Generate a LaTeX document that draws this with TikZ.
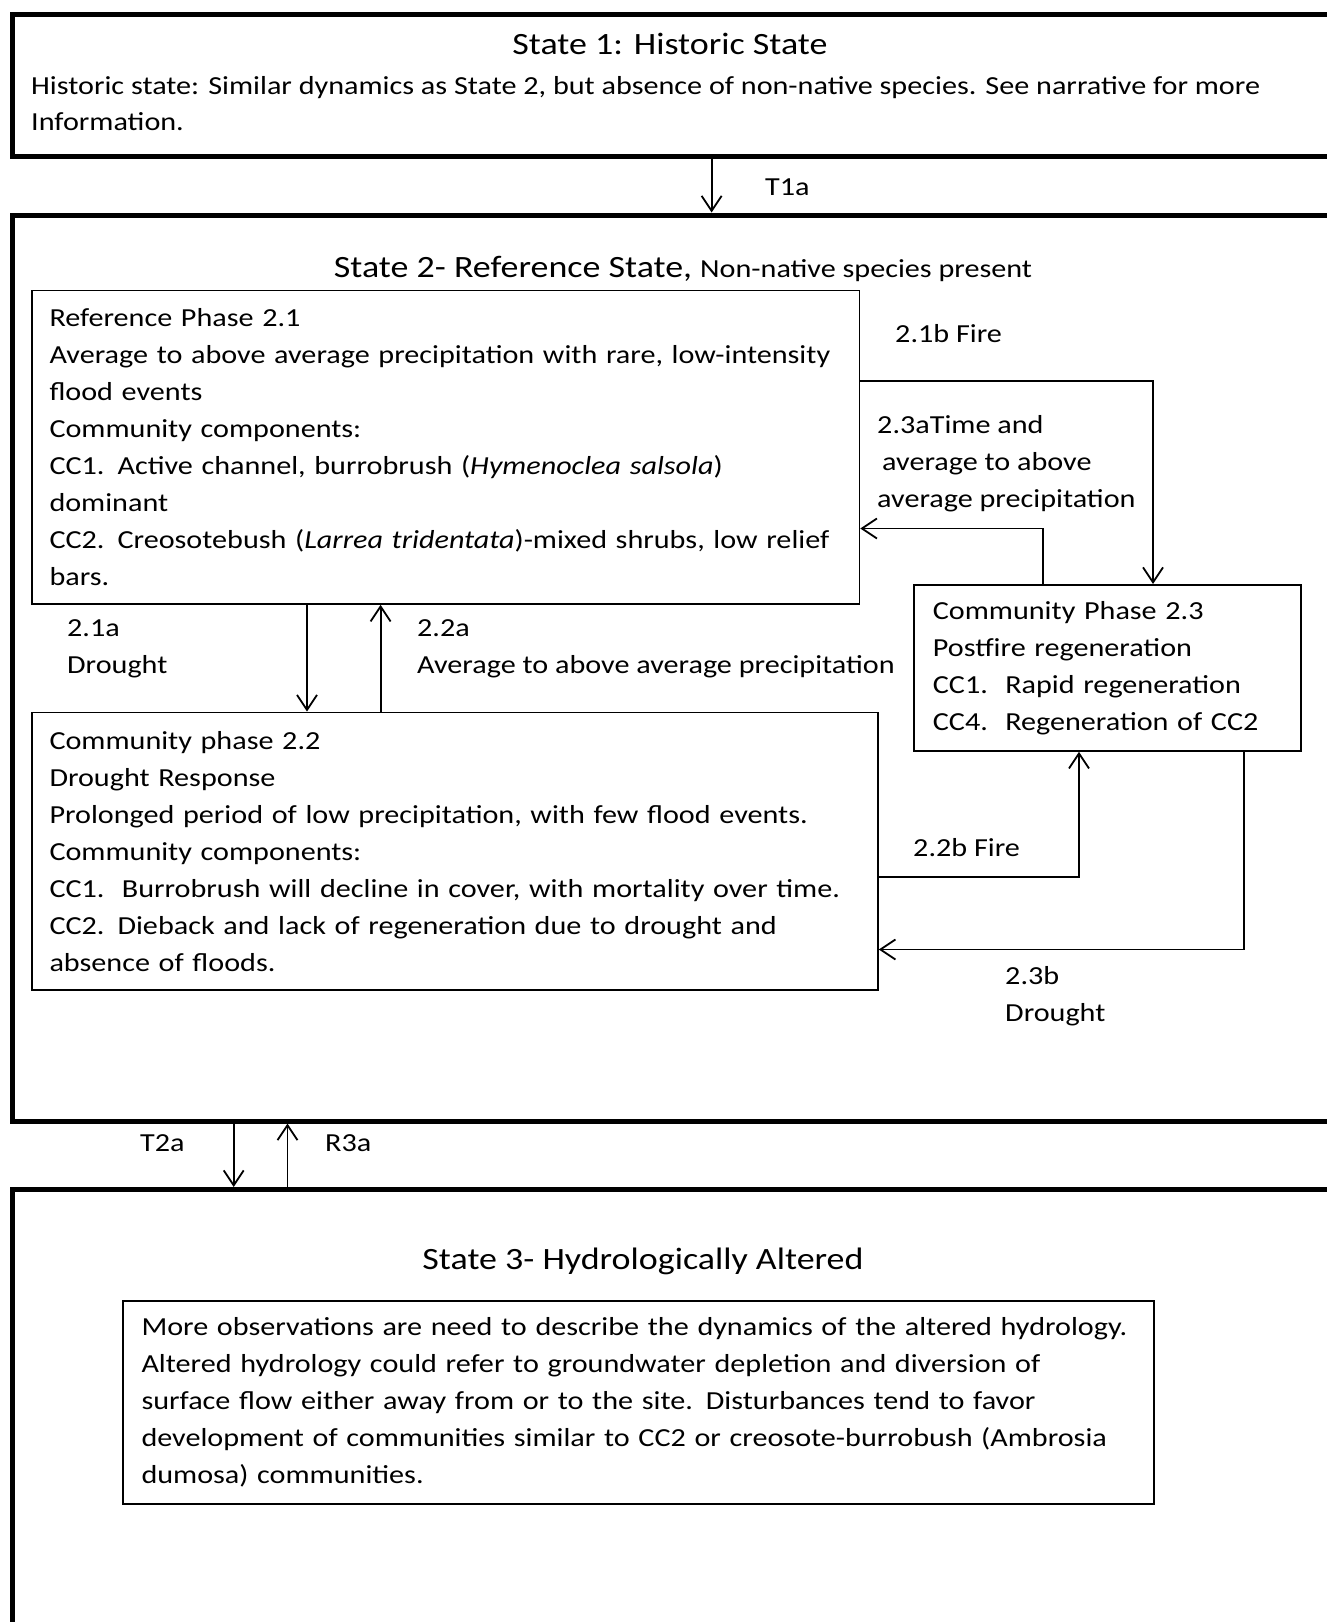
\documentclass[tikz,border=0pt]{standalone}
\usepackage{fontspec}
\setmainfont{Carlito}[FakeStretch=1.16]
\usetikzlibrary{arrows.meta, positioning}
\tikzset{
  statebox/.style={draw, line width=5pt, anchor=north west, inner sep=0pt},
  phasebox/.style={draw, line width=1.8pt, anchor=north west, align=left, inner ysep=0pt, font=\fontsize{26}{37}\selectfont},
  lbl/.style={anchor=base west, inner sep=0pt, font=\fontsize{26}{37}\selectfont},
  ttl/.style={anchor=base, inner sep=0pt, font=\fontsize{31}{37}\selectfont},
  arr/.style={line width=1.8pt, -{Straight Barb[length=15pt,width=20pt]}},
}

\begin{document}
\begin{tikzpicture}[x=1pt, y=-1pt]
\useasboundingbox (0,0) rectangle (1327,1622);
\fill[white] (0,0) rectangle (1327,1622);
\clip (0,0) rectangle (1327,1622);

% state frames
\node[statebox, minimum width=1400, minimum height=141.5] (s1) at (10,12) {};
\node[statebox, minimum width=1400, minimum height=906] (s2) at (10,212.5) {};
\node[statebox, minimum width=1400, minimum height=600] (s3) at (10,1187) {};

% state 1
\node[ttl] (s1t) at (670,54) {State 1: Historic State};
\node[lbl] (h1a) at (31,94) {Historic state: Similar dynamics as State 2, but absence of non-native species. See narrative for more};
\node[lbl] (h1b) at (31,130) {Information.};

% state 2
\node[ttl] (s2t) at (683,277) {State 2- Reference State, {\fontsize{26}{37}\selectfont Non-native species present}};

\node[phasebox, inner xsep=17.6, text width=792.3, minimum width=827.5, minimum height=313.4] (p21) at (31,289.6) {Reference Phase 2.1\\
Average to above average precipitation with rare, low-intensity\\
flood events\\
Community components:\\
CC1. Active channel, burrobrush (\textit{Hymenoclea salsola})\\
dominant\\
CC2. Creosotebush (\textit{Larrea tridentata})-mixed shrubs, low relief\\
bars.};

\node[phasebox, inner xsep=17.6, text width=810.8, minimum width=846, minimum height=277.4] (p22) at (31,711.6) {Community phase 2.2\\
Drought Response\\
Prolonged period of low precipitation, with few flood events.\\
Community components:\\
CC1.\ \ Burrobrush will decline in cover, with mortality over time.\\
CC2. Dieback and lack of regeneration due to drought and\\
absence of floods.};

\node[phasebox, inner xsep=19, text width=349, minimum width=387, minimum height=166] (p23) at (913,584) {Community Phase 2.3\\
Postfire regeneration\\
CC1.\ \ Rapid regeneration\\
CC4.\ \ Regeneration of CC2};

% transitions inside state 2
\draw[arr] (p21.south -| 307,0) -- (p22.north -| 307,0);
\draw[arr] (p22.north -| 380.6,0) -- (p21.south -| 380.6,0);
\draw[arr] (p21.east |- 0,380.6) -| (p23.north -| 1153,0);
\draw[arr] (p23.north -| 1042.6,0) |- (p21.east |- 0,528.5);
\draw[arr] (p22.east |- 0,877) -| (p23.south -| 1079,0);
\draw[arr] (p23.south -| 1244,0) |- (p22.east |- 0,949.5);

\node[lbl] (l21a) at (67,636) {2.1a};
\node[lbl] (l21a2) at (67,673) {Drought};
\node[lbl] (l22a) at (417,636) {2.2a};
\node[lbl] (l22a2) at (417,673) {Average to above average precipitation};
\node[lbl] (l21b) at (895,342) {2.1b Fire};
\node[lbl] (l23a) at (877,433) {2.3aTime and};
\node[lbl] (l23a2) at (882,470) {average to above};
\node[lbl] (l23a3) at (877,507) {average precipitation};
\node[lbl] (l22b) at (913,856) {2.2b Fire};
\node[lbl] (l23b) at (1005,984) {2.3b};
\node[lbl] (l23b2) at (1005,1021) {Drought};

% between states
\draw[arr] (s1.south -| 711.6,0) -- (s2.north -| 711.6,0);
\node[lbl] (lt1a) at (765,195) {T1a};
\draw[arr] (s2.south -| 233.7,0) -- (s3.north -| 233.7,0);
\draw[arr] (s3.north -| 287.5,0) -- (s2.south -| 287.5,0);
\node[lbl] (lt2a) at (140,1151) {T2a};
\node[lbl] (lr3a) at (325,1151) {R3a};

% state 3
\node[ttl] (s3t) at (643,1269) {State 3- Hydrologically Altered};
\node[phasebox, inner xsep=18.6, text width=993.8, minimum width=1031, minimum height=203] (p3) at (122,1300) {More observations are need to describe the dynamics of the altered hydrology.\\
Altered hydrology could refer to groundwater depletion and diversion of\\
surface flow either away from or to the site. Disturbances tend to favor\\
development of communities similar to CC2 or creosote-burrobush (Ambrosia\\
dumosa) communities.};
\end{tikzpicture}
\end{document}
